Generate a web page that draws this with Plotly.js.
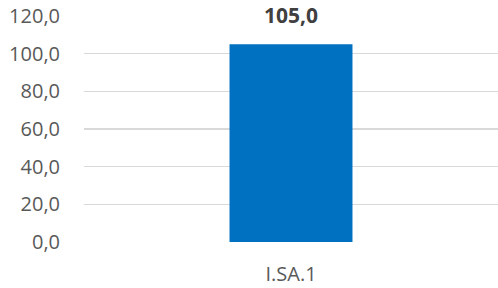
<!DOCTYPE html>
<html>
<head>
<meta charset="utf-8">
<script src="https://cdn.plot.ly/plotly-3.0.1.min.js"></script>
<style>html,body{margin:0;padding:0;background:#fff;}#chart{width:498px;height:288px;}</style>
</head>
<body>
<div id="chart"></div>
<script>
const categories = ["I.SA.1"];
const values = [105.0];
const yTickValues = [0, 20, 40, 60, 80, 100, 120];
const yTickLabels = ["0,0", "20,0", "40,0", "60,0", "80,0", "100,0", "120,0"];

const trace = {
  type: "bar",
  x: categories,
  y: values,
  width: 0.297,
  marker: {color: "#0070C0", line: {width: 0}},
  hoverinfo: "none"
};

const annotations = categories.map((c, i) => ({
  x: c, y: values[i], xref: "x", yref: "y",
  text: "<b>" + values[i].toFixed(1).replace(".", ",") + "</b>",
  showarrow: false, yanchor: "bottom", yshift: 14, borderpad: 0,
  font: {family: "Open Sans", size: 21, color: "#404040"}
}));

const layout = {
  width: 498, height: 288,
  margin: {l: 84, r: 0, t: 15.5, b: 45.5, pad: 0},
  paper_bgcolor: "#fff", plot_bgcolor: "#fff",
  showlegend: false,
  font: {family: "Open Sans", size: 20, color: "#595959"},
  xaxis: {
    type: "category",
    showgrid: false, zeroline: false,
    showline: false,
    ticks: "outside", ticklen: 14, tickcolor: "rgba(0,0,0,0)",
    tickfont: {family: "Open Sans", size: 20, color: "#595959"},
    fixedrange: true
  },
  yaxis: {
    range: [0, 120],
    tickvals: yTickValues, ticktext: yTickLabels,
    showgrid: true, gridcolor: "#D9D9D9", gridwidth: 1.3,
    zeroline: false, showline: false,
    ticks: "outside", ticklen: 19, tickcolor: "rgba(0,0,0,0)",
    tickfont: {family: "Open Sans", size: 20, color: "#595959"},
    fixedrange: true
  },
  annotations: annotations
};

Plotly.newPlot("chart", [trace], layout, {displayModeBar: false, staticPlot: true});
</script>
</body>
</html>
